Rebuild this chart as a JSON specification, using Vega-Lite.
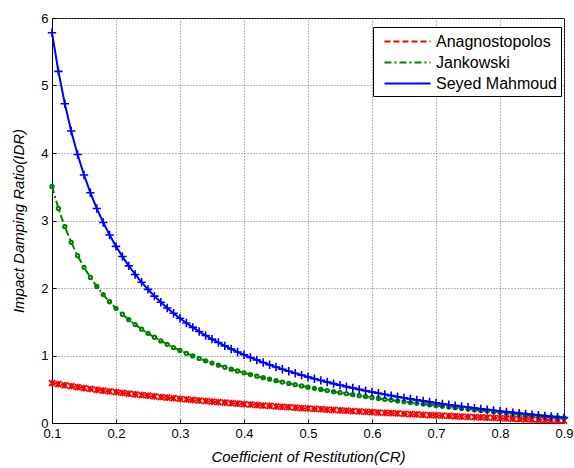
{
  "$schema": "https://vega.github.io/schema/vega-lite/v6.json",
  "width": 512,
  "height": 405,
  "autosize": {"type": "none"},
  "padding": {"left": 52, "top": 18, "right": 10, "bottom": 45},
  "background": "white",
  "config": {
    "font": "Liberation Sans",
    "view": {"stroke": "black", "strokeWidth": 1},
    "axis": {
      "labelFont": "Liberation Sans",
      "labelFontSize": 13,
      "labelColor": "black",
      "titleFont": "Liberation Sans",
      "titleFontSize": 15,
      "titleFontWeight": "normal",
      "titleFontStyle": "italic",
      "titleColor": "black",
      "domainColor": "black",
      "tickColor": "black",
      "grid": true,
      "gridColor": "#777777",
      "gridDash": [1, 2],
      "gridWidth": 1
    }
  },
  "data": {
    "values": [
      {"x":0.10,"Anagnostopolos":0.591,"Jankowski":3.505,"Seyed Mahmoud":5.782},
      {"x":0.11,"Anagnostopolos":0.575,"Jankowski":3.179,"Seyed Mahmoud":5.209},
      {"x":0.12,"Anagnostopolos":0.559,"Jankowski":2.908,"Seyed Mahmoud":4.730},
      {"x":0.13,"Anagnostopolos":0.545,"Jankowski":2.677,"Seyed Mahmoud":4.325},
      {"x":0.14,"Anagnostopolos":0.531,"Jankowski":2.479,"Seyed Mahmoud":3.977},
      {"x":0.15,"Anagnostopolos":0.517,"Jankowski":2.307,"Seyed Mahmoud":3.675},
      {"x":0.16,"Anagnostopolos":0.504,"Jankowski":2.156,"Seyed Mahmoud":3.411},
      {"x":0.17,"Anagnostopolos":0.491,"Jankowski":2.022,"Seyed Mahmoud":3.178},
      {"x":0.18,"Anagnostopolos":0.479,"Jankowski":1.903,"Seyed Mahmoud":2.971},
      {"x":0.19,"Anagnostopolos":0.467,"Jankowski":1.796,"Seyed Mahmoud":2.785},
      {"x":0.20,"Anagnostopolos":0.456,"Jankowski":1.699,"Seyed Mahmoud":2.617},
      {"x":0.21,"Anagnostopolos":0.445,"Jankowski":1.611,"Seyed Mahmoud":2.466},
      {"x":0.22,"Anagnostopolos":0.434,"Jankowski":1.531,"Seyed Mahmoud":2.328},
      {"x":0.23,"Anagnostopolos":0.424,"Jankowski":1.458,"Seyed Mahmoud":2.201},
      {"x":0.24,"Anagnostopolos":0.414,"Jankowski":1.390,"Seyed Mahmoud":2.086},
      {"x":0.25,"Anagnostopolos":0.404,"Jankowski":1.328,"Seyed Mahmoud":1.979},
      {"x":0.26,"Anagnostopolos":0.394,"Jankowski":1.270,"Seyed Mahmoud":1.880},
      {"x":0.27,"Anagnostopolos":0.385,"Jankowski":1.216,"Seyed Mahmoud":1.789},
      {"x":0.28,"Anagnostopolos":0.376,"Jankowski":1.165,"Seyed Mahmoud":1.704},
      {"x":0.29,"Anagnostopolos":0.367,"Jankowski":1.118,"Seyed Mahmoud":1.625},
      {"x":0.30,"Anagnostopolos":0.358,"Jankowski":1.074,"Seyed Mahmoud":1.551},
      {"x":0.31,"Anagnostopolos":0.349,"Jankowski":1.032,"Seyed Mahmoud":1.481},
      {"x":0.32,"Anagnostopolos":0.341,"Jankowski":0.993,"Seyed Mahmoud":1.416},
      {"x":0.33,"Anagnostopolos":0.333,"Jankowski":0.956,"Seyed Mahmoud":1.355},
      {"x":0.34,"Anagnostopolos":0.325,"Jankowski":0.921,"Seyed Mahmoud":1.297},
      {"x":0.35,"Anagnostopolos":0.317,"Jankowski":0.888,"Seyed Mahmoud":1.243},
      {"x":0.36,"Anagnostopolos":0.309,"Jankowski":0.856,"Seyed Mahmoud":1.192},
      {"x":0.37,"Anagnostopolos":0.302,"Jankowski":0.826,"Seyed Mahmoud":1.143},
      {"x":0.38,"Anagnostopolos":0.294,"Jankowski":0.797,"Seyed Mahmoud":1.096},
      {"x":0.39,"Anagnostopolos":0.287,"Jankowski":0.770,"Seyed Mahmoud":1.052},
      {"x":0.40,"Anagnostopolos":0.280,"Jankowski":0.743,"Seyed Mahmoud":1.011},
      {"x":0.41,"Anagnostopolos":0.273,"Jankowski":0.718,"Seyed Mahmoud":0.971},
      {"x":0.42,"Anagnostopolos":0.266,"Jankowski":0.694,"Seyed Mahmoud":0.933},
      {"x":0.43,"Anagnostopolos":0.259,"Jankowski":0.671,"Seyed Mahmoud":0.896},
      {"x":0.44,"Anagnostopolos":0.253,"Jankowski":0.649,"Seyed Mahmoud":0.862},
      {"x":0.45,"Anagnostopolos":0.246,"Jankowski":0.627,"Seyed Mahmoud":0.829},
      {"x":0.46,"Anagnostopolos":0.240,"Jankowski":0.607,"Seyed Mahmoud":0.797},
      {"x":0.47,"Anagnostopolos":0.234,"Jankowski":0.587,"Seyed Mahmoud":0.766},
      {"x":0.48,"Anagnostopolos":0.228,"Jankowski":0.568,"Seyed Mahmoud":0.737},
      {"x":0.49,"Anagnostopolos":0.221,"Jankowski":0.549,"Seyed Mahmoud":0.709},
      {"x":0.50,"Anagnostopolos":0.216,"Jankowski":0.531,"Seyed Mahmoud":0.682},
      {"x":0.51,"Anagnostopolos":0.210,"Jankowski":0.514,"Seyed Mahmoud":0.656},
      {"x":0.52,"Anagnostopolos":0.204,"Jankowski":0.497,"Seyed Mahmoud":0.631},
      {"x":0.53,"Anagnostopolos":0.198,"Jankowski":0.480,"Seyed Mahmoud":0.607},
      {"x":0.54,"Anagnostopolos":0.193,"Jankowski":0.464,"Seyed Mahmoud":0.583},
      {"x":0.55,"Anagnostopolos":0.187,"Jankowski":0.449,"Seyed Mahmoud":0.561},
      {"x":0.56,"Anagnostopolos":0.182,"Jankowski":0.434,"Seyed Mahmoud":0.539},
      {"x":0.57,"Anagnostopolos":0.176,"Jankowski":0.419,"Seyed Mahmoud":0.518},
      {"x":0.58,"Anagnostopolos":0.171,"Jankowski":0.405,"Seyed Mahmoud":0.498},
      {"x":0.59,"Anagnostopolos":0.166,"Jankowski":0.391,"Seyed Mahmoud":0.478},
      {"x":0.60,"Anagnostopolos":0.161,"Jankowski":0.378,"Seyed Mahmoud":0.459},
      {"x":0.61,"Anagnostopolos":0.155,"Jankowski":0.364,"Seyed Mahmoud":0.441},
      {"x":0.62,"Anagnostopolos":0.150,"Jankowski":0.351,"Seyed Mahmoud":0.423},
      {"x":0.63,"Anagnostopolos":0.146,"Jankowski":0.339,"Seyed Mahmoud":0.406},
      {"x":0.64,"Anagnostopolos":0.141,"Jankowski":0.327,"Seyed Mahmoud":0.389},
      {"x":0.65,"Anagnostopolos":0.136,"Jankowski":0.315,"Seyed Mahmoud":0.373},
      {"x":0.66,"Anagnostopolos":0.131,"Jankowski":0.303,"Seyed Mahmoud":0.357},
      {"x":0.67,"Anagnostopolos":0.127,"Jankowski":0.291,"Seyed Mahmoud":0.342},
      {"x":0.68,"Anagnostopolos":0.122,"Jankowski":0.280,"Seyed Mahmoud":0.327},
      {"x":0.69,"Anagnostopolos":0.117,"Jankowski":0.269,"Seyed Mahmoud":0.312},
      {"x":0.70,"Anagnostopolos":0.113,"Jankowski":0.258,"Seyed Mahmoud":0.298},
      {"x":0.71,"Anagnostopolos":0.108,"Jankowski":0.247,"Seyed Mahmoud":0.284},
      {"x":0.72,"Anagnostopolos":0.104,"Jankowski":0.237,"Seyed Mahmoud":0.271},
      {"x":0.73,"Anagnostopolos":0.100,"Jankowski":0.227,"Seyed Mahmoud":0.258},
      {"x":0.74,"Anagnostopolos":0.095,"Jankowski":0.216,"Seyed Mahmoud":0.245},
      {"x":0.75,"Anagnostopolos":0.091,"Jankowski":0.206,"Seyed Mahmoud":0.233},
      {"x":0.76,"Anagnostopolos":0.087,"Jankowski":0.197,"Seyed Mahmoud":0.221},
      {"x":0.77,"Anagnostopolos":0.083,"Jankowski":0.187,"Seyed Mahmoud":0.209},
      {"x":0.78,"Anagnostopolos":0.079,"Jankowski":0.178,"Seyed Mahmoud":0.198},
      {"x":0.79,"Anagnostopolos":0.075,"Jankowski":0.168,"Seyed Mahmoud":0.186},
      {"x":0.80,"Anagnostopolos":0.071,"Jankowski":0.159,"Seyed Mahmoud":0.175},
      {"x":0.81,"Anagnostopolos":0.067,"Jankowski":0.150,"Seyed Mahmoud":0.165},
      {"x":0.82,"Anagnostopolos":0.063,"Jankowski":0.141,"Seyed Mahmoud":0.154},
      {"x":0.83,"Anagnostopolos":0.059,"Jankowski":0.133,"Seyed Mahmoud":0.144},
      {"x":0.84,"Anagnostopolos":0.055,"Jankowski":0.124,"Seyed Mahmoud":0.134},
      {"x":0.85,"Anagnostopolos":0.052,"Jankowski":0.116,"Seyed Mahmoud":0.124},
      {"x":0.86,"Anagnostopolos":0.048,"Jankowski":0.107,"Seyed Mahmoud":0.115},
      {"x":0.87,"Anagnostopolos":0.044,"Jankowski":0.099,"Seyed Mahmoud":0.105},
      {"x":0.88,"Anagnostopolos":0.041,"Jankowski":0.091,"Seyed Mahmoud":0.096},
      {"x":0.89,"Anagnostopolos":0.037,"Jankowski":0.083,"Seyed Mahmoud":0.087},
      {"x":0.90,"Anagnostopolos":0.034,"Jankowski":0.075,"Seyed Mahmoud":0.079}
    ]
  },
  "transform": [
    {"fold": ["Anagnostopolos", "Jankowski", "Seyed Mahmoud"], "as": ["model", "idr"]}
  ],
  "encoding": {
    "x": {
      "field": "x", "type": "quantitative",
      "scale": {"domain": [0.1, 0.9], "nice": false, "zero": false},
      "axis": {"title": "Coefficient of Restitution(CR)", "values": [0.1,0.2,0.3,0.4,0.5,0.6,0.7,0.8,0.9], "format": ".1f", "tickSize": -4, "labelPadding": 8, "titlePadding": 9, "labelFlush": false}
    },
    "y": {
      "field": "idr", "type": "quantitative",
      "scale": {"domain": [0, 6], "nice": false},
      "axis": {"title": "Impact Damping Ratio(IDR)", "values": [0,1,2,3,4,5,6], "format": "d", "tickSize": -4, "labelPadding": 8, "titlePadding": 14}
    },
    "color": {
      "field": "model", "type": "nominal",
      "scale": {"domain": ["Anagnostopolos", "Jankowski", "Seyed Mahmoud"], "range": ["#ff0000", "#008000", "#0000ff"]},
      "legend": null
    }
  },
  "layer": [
    {
      "mark": {"type": "line", "strokeWidth": 2},
      "encoding": {
        "color": {
          "field": "model", "type": "nominal",
          "scale": {"domain": ["Anagnostopolos", "Jankowski", "Seyed Mahmoud"], "range": ["#ff0000", "#008000", "#0000ff"]},
          "legend": {
            "title": null, "orient": "none", "legendX": 321, "legendY": 9,
            "direction": "vertical",
            "strokeColor": "black", "fillColor": "white", "padding": 4,
            "symbolType": "M-2.5,0L2.5,0", "symbolSize": 340, "symbolStrokeWidth": 2, "symbolOffset": 20,
            "labelFont": "Liberation Sans", "labelFontSize": 16, "labelColor": "black",
            "rowPadding": 2, "labelOffset": 18, "cornerRadius": 0
          }
        },
        "strokeDash": {
          "field": "model", "type": "nominal",
          "scale": {"domain": ["Anagnostopolos", "Jankowski", "Seyed Mahmoud"], "range": [[6, 3], [7, 3, 2, 3], [1, 0]]},
          "legend": {
            "title": null, "orient": "none", "legendX": 321, "legendY": 9,
            "direction": "vertical",
            "strokeColor": "black", "fillColor": "white", "padding": 4,
            "symbolType": "M-2.5,0L2.5,0", "symbolSize": 340, "symbolStrokeWidth": 2, "symbolOffset": 20,
            "labelFont": "Liberation Sans", "labelFontSize": 16, "labelColor": "black",
            "rowPadding": 2, "labelOffset": 18, "cornerRadius": 0
          }
        }
      }
    },
    {
      "transform": [{"filter": {"field": "model", "equal": "Anagnostopolos"}}],
      "mark": {"type": "point", "filled": false, "strokeWidth": 1.8, "opacity": 1, "size": 36, "shape": "M-1,-1L1,1M1,-1L-1,1M0,-1.1L0,1.1"}
    },
    {
      "transform": [{"filter": {"field": "model", "equal": "Jankowski"}}],
      "mark": {"type": "point", "filled": false, "strokeWidth": 2, "opacity": 1, "size": 36, "shape": "M-0.55,0A0.55,0.55 0 1,0 0.55,0A0.55,0.55 0 1,0 -0.55,0Z"}
    },
    {
      "transform": [{"filter": {"field": "model", "equal": "Seyed Mahmoud"}}],
      "mark": {"type": "point", "filled": false, "strokeWidth": 1.6, "opacity": 1, "size": 36, "shape": "M-1.4,0L1.4,0M0,-1.4L0,1.4"}
    }
  ]
}
